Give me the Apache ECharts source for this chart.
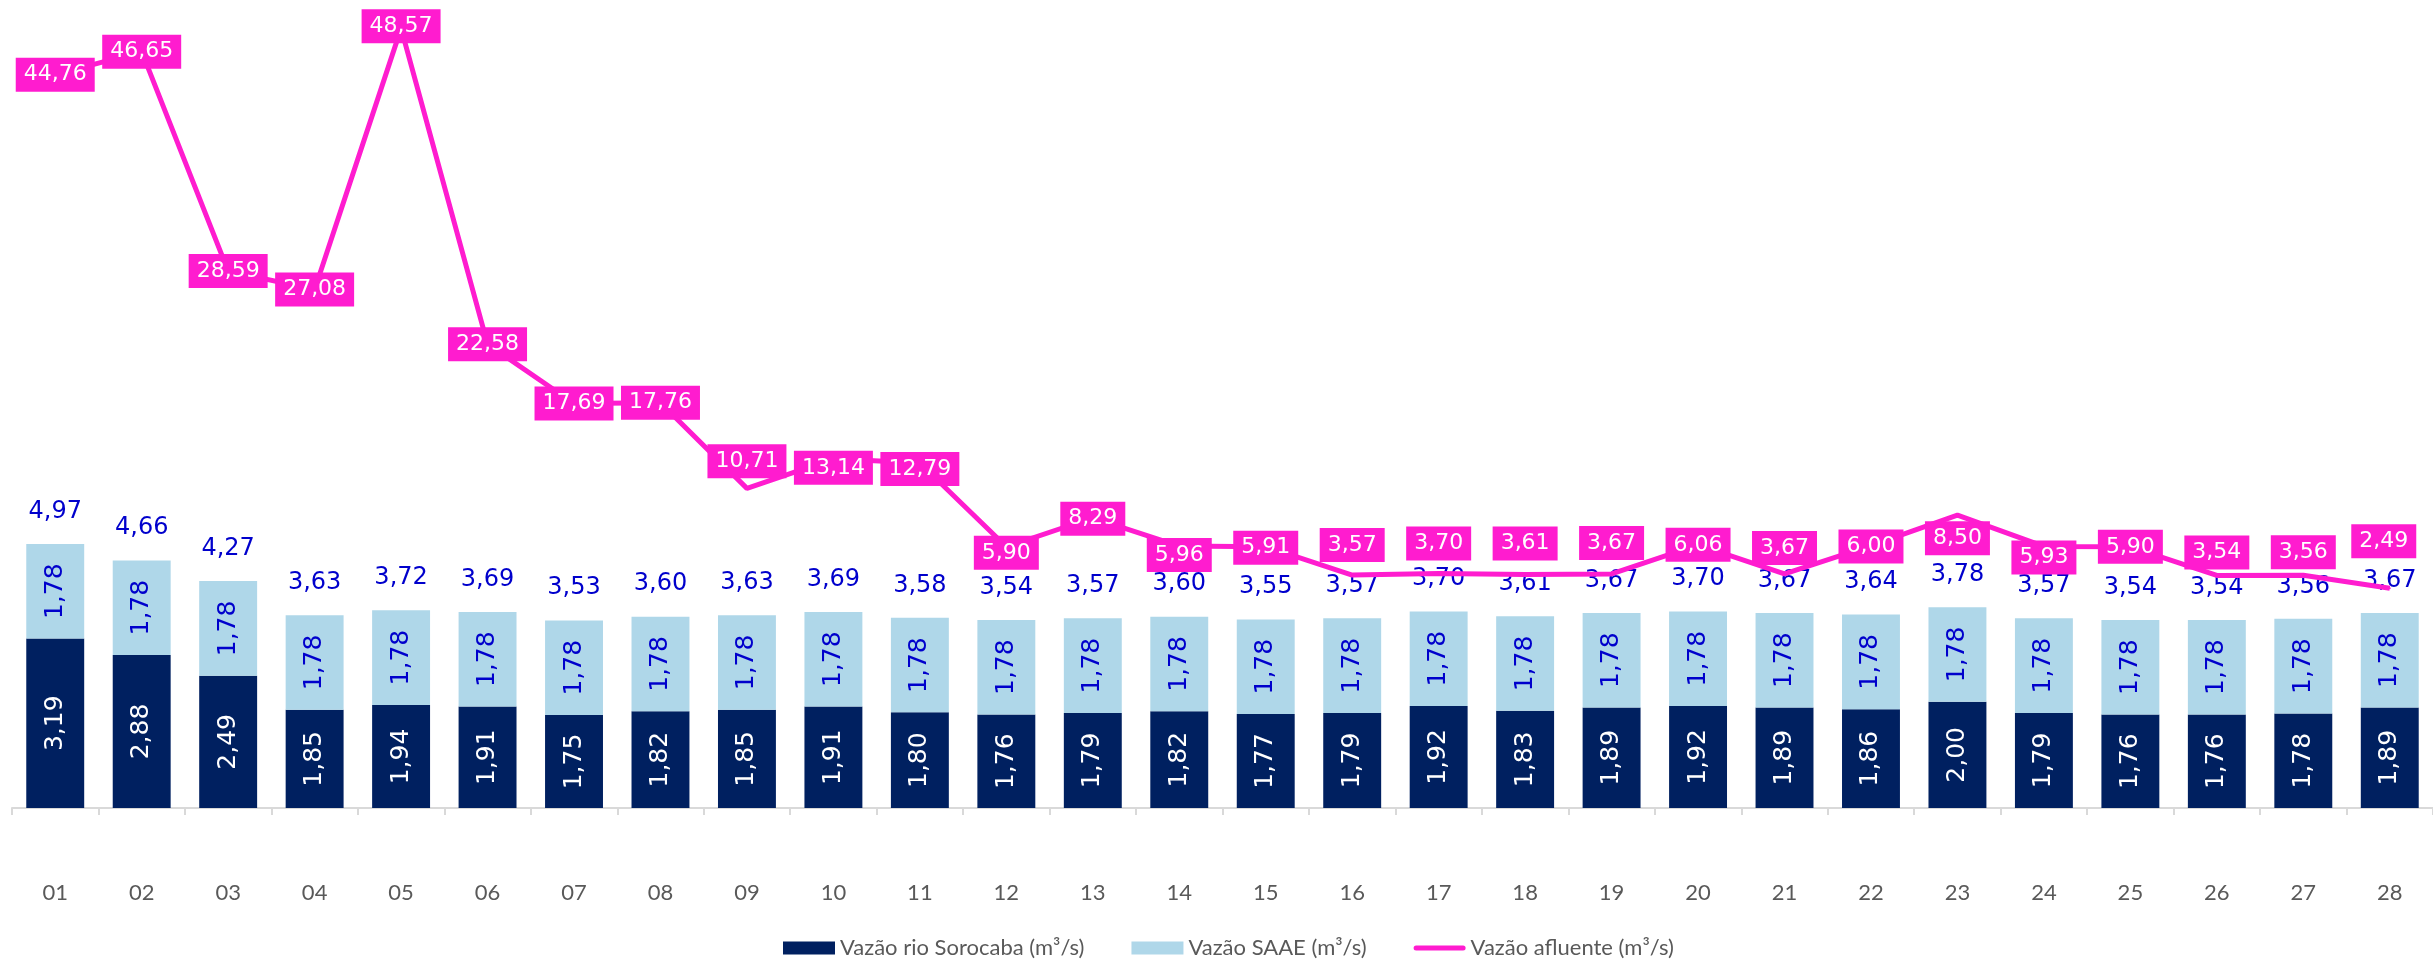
<!DOCTYPE html>
<html>
<head>
<meta charset="utf-8">
<script src="https://cdn.jsdelivr.net/npm/echarts@6/dist/echarts.min.js"></script>
<style>
  html, body { margin: 0; padding: 0; background: #fff; }
  #chart { width: 2433px; height: 959px; }
</style>
</head>
<body>
<div id="chart"></div>
<script>
// dias do mês
const days = ['01', '02', '03', '04', '05', '06', '07', '08', '09', '10', '11', '12', '13', '14',
  '15', '16', '17', '18', '19', '20', '21', '22', '23', '24', '25', '26', '27', '28']
// vazão rio Sorocaba (m³/s)
const rioSorocaba = [3.19, 2.88, 2.49, 1.85, 1.94, 1.91, 1.75, 1.82, 1.85, 1.91, 1.80, 1.76, 1.79, 1.82,
  1.77, 1.79, 1.92, 1.83, 1.89, 1.92, 1.89, 1.86, 2.00, 1.79, 1.76, 1.76, 1.78, 1.89]
// vazão SAAE (m³/s)
const saae = [1.78, 1.78, 1.78, 1.78, 1.78, 1.78, 1.78, 1.78, 1.78, 1.78, 1.78, 1.78, 1.78, 1.78,
  1.78, 1.78, 1.78, 1.78, 1.78, 1.78, 1.78, 1.78, 1.78, 1.78, 1.78, 1.78, 1.78, 1.78]
// total das barras (rótulo acima da pilha)
const totals = [4.97, 4.66, 4.27, 3.63, 3.72, 3.69, 3.53, 3.60, 3.63, 3.69, 3.58, 3.54, 3.57, 3.60,
  3.55, 3.57, 3.70, 3.61, 3.67, 3.70, 3.67, 3.64, 3.78, 3.57, 3.54, 3.54, 3.56, 3.67]
// vazão afluente (m³/s)
const afluente = [44.76, 46.65, 28.59, 27.08, 48.57, 22.58, 17.69, 17.76, 10.71, 13.14, 12.79, 5.90, 8.29, 5.96,
  5.91, 3.57, 3.70, 3.61, 3.67, 6.06, 3.67, 6.00, 8.50, 5.93, 5.90, 3.54, 3.56, 2.49]

// deslocamento vertical dos rótulos rosa (px), como no original
const pinkLabelDy = [0, 0, 0, 0, -2, 0, 0, 0, -27, 9, 6, 6, 1, 9,
  1, -30, -30, -31, -31, 0, -26, 1, 23, 11, 0, -23, -23, -47]

const NAVY = '#002060'
const LIGHT = '#afd7e9'
const BLUE = '#0000cc'
const PINK = '#ff1ccf'
const fmt = v => v.toFixed(2).replace('.', ',')

const chart = echarts.init(document.getElementById('chart'))

const option = {
  animation: false,
  backgroundColor: '#fff',
  grid: { left: 12, right: -15, top: 11, bottom: 151 },
  legend: {
    left: 778,
    top: 932,
    itemWidth: 52,
    itemHeight: 13,
    itemGap: 47,
    textStyle: { fontFamily: 'Lato', fontSize: 22, color: '#595959' },
    data: [
      { name: 'Vazão rio Sorocaba (m³/s)', icon: 'rect' },
      { name: 'Vazão SAAE (m³/s)', icon: 'rect' },
      { name: 'Vazão afluente (m³/s)', icon: 'path://M5,0H99A5,5 0 0 1 99,10H5A5,5 0 0 1 5,0Z' }
    ]
  },
  xAxis: {
    type: 'category',
    data: days,
    boundaryGap: true,
    axisLine: { lineStyle: { color: '#d9d9d9', width: 2 } },
    axisTick: { show: true, interval: 0, length: 7, lineStyle: { color: '#d9d9d9', width: 2 } },
    axisLabel: { interval: 0, margin: 74, fontFamily: 'Lato', fontSize: 22, color: '#595959' }
  },
  yAxis: [
    { type: 'value', min: 0, max: 15, show: false, splitLine: { show: false } },
    { type: 'value', min: -15.6, max: 50, show: false, splitLine: { show: false } }
  ],
  series: [
    {
      name: 'Vazão rio Sorocaba (m³/s)',
      type: 'bar',
      stack: 'vazao',
      barCategoryGap: '33%',
      itemStyle: { color: NAVY },
      label: {
        show: true,
        position: 'inside',
        rotate: 90,
        formatter: p => fmt(p.value),
        color: '#fff',
        fontFamily: 'DejaVu Sans',
        fontSize: 25
      },
      data: rioSorocaba
    },
    {
      name: 'Vazão SAAE (m³/s)',
      type: 'bar',
      stack: 'vazao',
      barCategoryGap: '33%',
      itemStyle: { color: LIGHT },
      label: {
        show: true,
        position: 'inside',
        rotate: 90,
        formatter: p => fmt(p.value),
        color: BLUE,
        fontFamily: 'DejaVu Sans',
        fontSize: 25
      },
      data: saae
    },
    {
      // só para os rótulos de total acima das barras
      name: 'total',
      type: 'line',
      symbol: 'circle',
      symbolSize: 1,
      itemStyle: { color: 'rgba(0,0,0,0)' },
      lineStyle: { width: 0, opacity: 0 },
      label: {
        show: true,
        position: 'top',
        distance: 20,
        formatter: p => fmt(p.value),
        color: BLUE,
        fontFamily: 'DejaVu Sans',
        fontSize: 24
      },
      data: totals
    },
    {
      name: 'Vazão afluente (m³/s)',
      type: 'line',
      yAxisIndex: 1,
      symbol: 'circle',
      symbolSize: 2,
      itemStyle: { color: PINK },
      lineStyle: { color: PINK, width: 5 },
      z: 5,
      label: {
        show: true,
        position: 'inside',
        formatter: p => fmt(p.value),
        color: '#fff',
        backgroundColor: PINK,
        padding: [6, 8],
        fontFamily: 'DejaVu Sans',
        fontSize: 22
      },
      data: afluente.map((v, i) => ({
        value: v,
        label: { offset: [i === afluente.length - 1 ? -6 : 0, pinkLabelDy[i]] }
      }))
    }
  ]
}

chart.setOption(option)
</script>
</body>
</html>
